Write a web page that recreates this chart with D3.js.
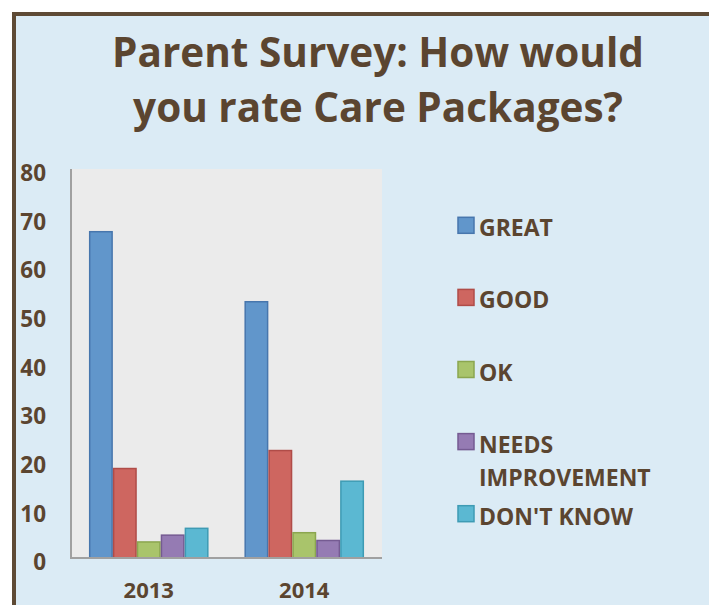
<!DOCTYPE html>
<html>
<head>
<meta charset="utf-8">
<script src="https://cdn.jsdelivr.net/npm/d3@7"></script>
<style>
  html, body { margin: 0; padding: 0; background: #ffffff; }
  svg { display: block; }
  text { font-family: "Open Sans", "DejaVu Sans", sans-serif; font-weight: 700; fill: #5b4530; }
</style>
</head>
<body>
<svg id="chart" width="709" height="605"></svg>
<script>
// ---- data ----
const categories = ["2013", "2014"];
const seriesNames = ["GREAT", "GOOD", "OK", "NEEDS IMPROVEMENT", "DON'T KNOW"];
const great = [67.1, 52.7];
const good = [18.4, 22.1];
const ok = [3.3, 5.2];
const needsImprovement = [4.7, 3.6];
const dontKnow = [6.1, 15.8];
const yTicks = [0, 10, 20, 30, 40, 50, 60, 70, 80];
const titleLines = ["Parent Survey: How would", "you rate Care Packages?"];

const seriesValues = [great, good, ok, needsImprovement, dontKnow];
const fills = ["#6196cb", "#ce6660", "#a9c46b", "#957bb3", "#5bb8d2"];
const strokes = ["#4776ad", "#b04c48", "#8ba64f", "#755b92", "#3e9bb4"];

const svg = d3.select("#chart");

// frame / background
svg.append("rect").attr("x", 0).attr("y", 0).attr("width", 709).attr("height", 605).attr("fill", "#ffffff");
svg.append("rect").attr("x", 14).attr("y", 14).attr("width", 708).attr("height", 640)
  .attr("fill", "#dbebf5").attr("stroke", "#5e4a35").attr("stroke-width", 4);

// title
svg.append("g").selectAll("text").data(titleLines).join("text")
  .attr("x", 378).attr("y", (d, i) => 67 + i * 55)
  .attr("text-anchor", "middle")
  .attr("font-size", 40.5)
  .text(d => d);

// scales
const plotLeft = 71, plotRight = 382, plotTop = 169, plotBottom = 558;
const y = d3.scaleLinear().domain([0, 80]).range([plotBottom, plotTop]);
const x0 = d3.scaleBand().domain(categories).range([plotLeft, plotRight]).padding(0);
const x1 = d3.scaleBand().domain(seriesNames).range([0, x0.bandwidth()]).paddingInner(0).paddingOuter(0.75);

// plot area
svg.append("rect").attr("x", plotLeft).attr("y", plotTop)
  .attr("width", plotRight - plotLeft).attr("height", plotBottom - plotTop).attr("fill", "#ebebeb");

// bars
const rows = [];
seriesNames.forEach((s, si) => categories.forEach((c, ci) => rows.push({ s, si, c, v: seriesValues[si][ci] })));
svg.append("g").selectAll("rect").data(rows).join("rect")
  .attr("x", d => x0(d.c) + x1(d.s) + 0.75)
  .attr("y", d => y(d.v))
  .attr("width", x1.bandwidth() - 1.5)
  .attr("height", d => plotBottom - y(d.v))
  .attr("fill", d => fills[d.si])
  .attr("stroke", d => strokes[d.si])
  .attr("stroke-width", 1.5);

// axes lines
svg.append("line").attr("x1", plotLeft).attr("x2", plotLeft).attr("y1", plotTop).attr("y2", plotBottom + 1)
  .attr("stroke", "#a0a0a0").attr("stroke-width", 2);
svg.append("line").attr("x1", plotLeft).attr("x2", plotRight).attr("y1", plotBottom).attr("y2", plotBottom)
  .attr("stroke", "#a0a0a0").attr("stroke-width", 2);

// y axis labels
const yAxis = d3.axisLeft(y).tickValues(yTicks).tickSize(0).tickPadding(0).tickFormat(d3.format("d"));
const yg = svg.append("g").attr("transform", "translate(46,0)").call(yAxis);
yg.select(".domain").remove();
yg.selectAll("text").attr("font-size", 22.5).attr("font-family", null).attr("fill", "#5b4530")
  .attr("dy", "0.52em").attr("y", 0).attr("x", 0);

// x axis labels
const xAxis = d3.axisBottom(x0).tickSize(0).tickPadding(0);
const xg = svg.append("g").attr("transform", "translate(0,598)").call(xAxis);
xg.select(".domain").remove();
xg.selectAll("text").attr("font-size", 22).attr("font-family", null).attr("fill", "#5b4530").attr("dy", 0).attr("y", 0);

// legend
const legend = svg.append("g");
const legendTop = 217.3, legendStep = 72.1, legendMaxW = 220;
seriesNames.forEach((name, i) => {
  const gy = legendTop + i * legendStep;
  legend.append("rect").attr("x", 458).attr("y", gy).attr("width", 16).attr("height", 16)
    .attr("fill", fills[i]).attr("stroke", strokes[i]).attr("stroke-width", 1.5);
  const t = legend.append("text").attr("x", 479).attr("y", gy + 19).attr("font-size", 23);
  const words = name.split(" ");
  let line = [];
  let tspan = t.append("tspan").attr("x", 479).attr("dy", 0);
  words.forEach(w => {
    line.push(w);
    tspan.text(line.join(" "));
    if (tspan.node().getComputedTextLength() > legendMaxW && line.length > 1) {
      line.pop();
      tspan.text(line.join(" "));
      line = [w];
      tspan = t.append("tspan").attr("x", 479).attr("dy", 33).text(w);
    }
  });
});
</script>
</body>
</html>
